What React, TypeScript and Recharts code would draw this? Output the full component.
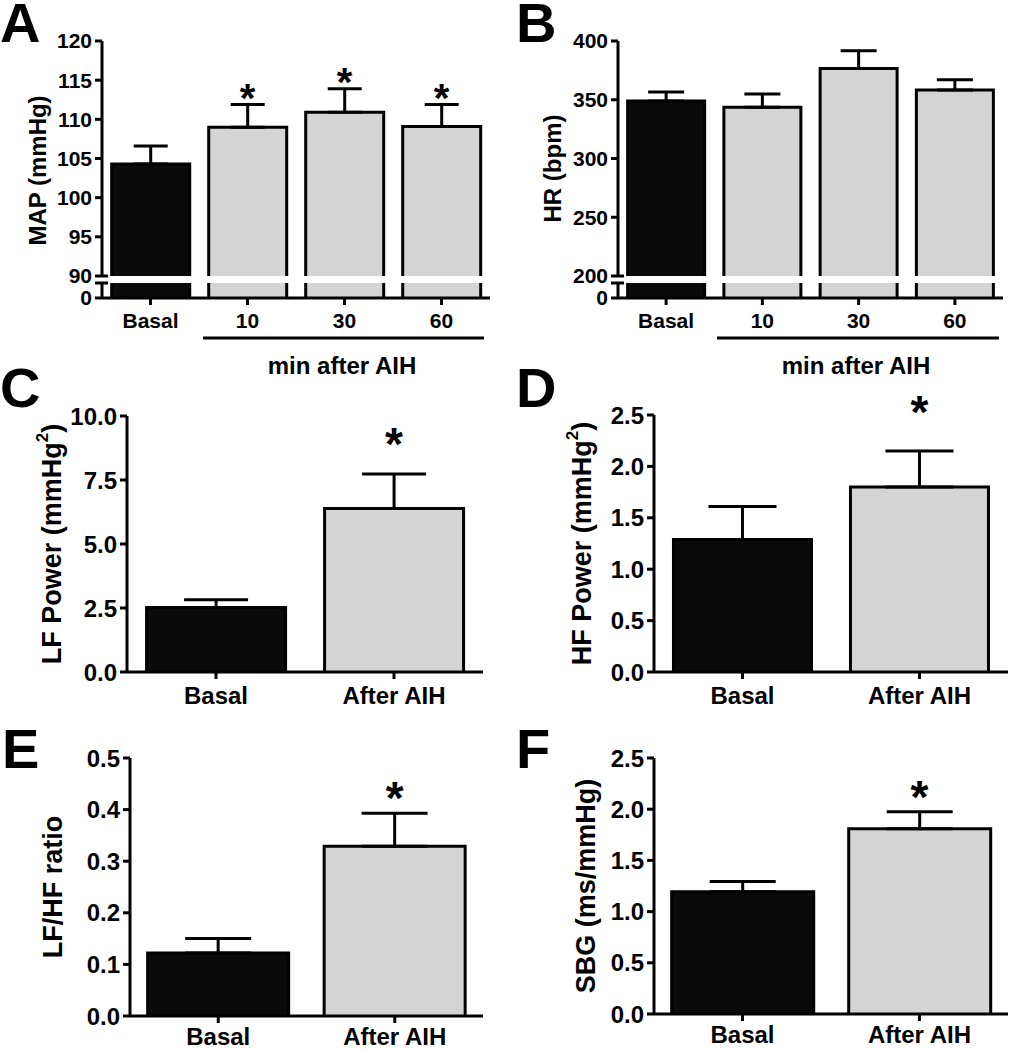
import React from 'react';
import { ComposedChart, Bar, XAxis, YAxis, ErrorBar, Line } from 'recharts';

const FONT = '"Liberation Sans", Arial, Helvetica, sans-serif';
const BLACK = '#0a0a0a';
const GRAY = '#d4d4d4';

// A / B: time course after AIH
const timeCats = ['Basal', '10', '30', '60'];
const mapMean = [104.3, 109.0, 110.9, 109.1];
const mapSem = [2.3, 2.9, 3.0, 2.8];
const mapSig = [false, true, true, true];
const mapTicks = [90, 95, 100, 105, 110, 115, 120];

const hrMean = [349, 343.6, 376.5, 358.3];
const hrSem = [7.6, 11.4, 15.2, 8.7];
const hrSig = [false, false, false, false];
const hrTicks = [200, 250, 300, 350, 400];

// C-F: basal vs after AIH
const groupCats = ['Basal', 'After AIH'];
const lfMean = [2.52, 6.39];
const lfSem = [0.3, 1.34];
const lfSig = [false, true];
const lfTicks = [0, 2.5, 5, 7.5, 10];

const hfMean = [1.29, 1.8];
const hfSem = [0.32, 0.35];
const hfSig = [false, true];
const hfTicks = [0, 0.5, 1, 1.5, 2, 2.5];

const ratioMean = [0.122, 0.329];
const ratioSem = [0.028, 0.064];
const ratioSig = [false, true];
const ratioTicks = [0, 0.1, 0.2, 0.3, 0.4, 0.5];

const sbgMean = [1.195, 1.809];
const sbgSem = [0.1, 0.166];
const sbgSig = [false, true];
const sbgTicks = [0, 0.5, 1, 1.5, 2, 2.5];

const buildRows = (cats: string[], mean: number[], sem: number[], sig: boolean[]) =>
  cats.map((cat, i) => ({
    cat,
    mean: mean[i],
    err: [0, sem[i]],
    star: sig[i] ? mean[i] + sem[i] : null,
  }));

const axisStyle = { stroke: '#000', strokeWidth: 3 };
const TICK_SIZE = 7;
const TICK_MARGIN = 3;

// bar outline without a bottom edge (so the axis break stays open)
const OpenBar = (p: any) => {
  const { x, y, width, height, index } = p;
  if (!height || height <= 0) return null;
  const fill = index === 0 ? BLACK : GRAY;
  return (
    <g>
      <rect x={x} y={y} width={width} height={height} fill={fill} />
      <path
        d={`M${x},${y + height}V${y}H${x + width}V${y + height}`}
        fill="none"
        stroke="#000"
        strokeWidth={3}
      />
    </g>
  );
};

// y tick with optional break mark (short stub to the right of the axis)
const makeYTick = (fontSize: number, fmt?: (v: number) => string, breakAt?: number, hideAt?: number) => (p: any) => {
  const { x, y, payload } = p;
  const v = payload.value;
  const axisX = x + TICK_SIZE + TICK_MARGIN;
  return (
    <g>
      {v === breakAt && <line x1={axisX} x2={axisX + 6} y1={y} y2={y} stroke="#000" strokeWidth={3} />}
      {v !== hideAt && (
        <text x={x} y={y} dy="0.355em" textAnchor="end" fontSize={fontSize} fontWeight={700} fill="#000">
          {fmt ? fmt(v) : String(v)}
        </text>
      )}
    </g>
  );
};

const makeTitle = (content: React.ReactNode, dx: number, dy: number, size: number) => (props: any) => {
  const vb = props.viewBox;
  const cx = vb.x + vb.width + dx;
  const cy = vb.y + vb.height / 2 + dy;
  return (
    <text
      x={cx}
      y={cy}
      transform={`rotate(-90 ${cx} ${cy})`}
      textAnchor="middle"
      dominantBaseline="central"
      fontSize={size}
      fontWeight={700}
      fill="#000"
    >
      {content}
    </text>
  );
};

const makeStar = (offset: number, size: number) => (props: any) => {
  const { x, y, value } = props;
  if (value == null || y == null) return null;
  return (
    <text x={x} y={y - offset + size * 0.58} textAnchor="middle" fontSize={size} fontWeight={700} fill="#000">
      *
    </text>
  );
};

interface PanelProps {
  left: number;
  top: number;
  width: number;
  height: number;
  margin: { top: number; right: number; bottom: number; left: number };
  rows: any[];
  domain: [number, number];
  ticks: number[];
  fmt?: (v: number) => string;
  fontSize: number;
  showX: boolean;
  xHeight?: number;
  xMargin?: number;
  title?: any;
  capWidth?: number;
  star?: any;
  gap: string;
  errors?: boolean;
  breakAt?: number;
  hideAt?: number;
}

const Panel: React.FC<PanelProps> = ({
  left, top, width, height, margin, rows, domain, ticks, fmt, fontSize,
  showX, xHeight = 36, xMargin = 8, title, capWidth = 17, star, gap, errors = true,
  breakAt, hideAt,
}) => (
  <div style={{ position: 'absolute', left, top }}>
    <ComposedChart width={width} height={height} data={rows} margin={margin} barCategoryGap={gap}>
      <XAxis
        dataKey="cat"
        hide={!showX}
        height={xHeight}
        interval={0}
        tickSize={7}
        tickMargin={xMargin}
        axisLine={axisStyle}
        tickLine={axisStyle}
        tick={{ fill: '#000', fontSize, fontWeight: 700 }}
      />
      <YAxis
        type="number"
        domain={domain}
        ticks={ticks}
        interval={0}
        allowDataOverflow
        width={60}
        tickSize={TICK_SIZE}
        tickMargin={TICK_MARGIN}
        axisLine={axisStyle}
        tickLine={axisStyle}
        tick={makeYTick(fontSize, fmt, breakAt, hideAt)}
        label={title}
      />
      <Bar dataKey="mean" shape={OpenBar} isAnimationActive={false}>
        {errors && (
          <ErrorBar dataKey="err" direction="y" width={capWidth} stroke="#000" strokeWidth={3} isAnimationActive={false} />
        )}
      </Bar>
      {star && (
        <Line
          dataKey="star"
          stroke="none"
          dot={false}
          activeDot={false}
          legendType="none"
          isAnimationActive={false}
          label={star}
        />
      )}
    </ComposedChart>
  </div>
);

const f1 = (v: number) => v.toFixed(1);

const mapRows = buildRows(timeCats, mapMean, mapSem, mapSig);
const hrRows = buildRows(timeCats, hrMean, hrSem, hrSig);
const lfRows = buildRows(groupCats, lfMean, lfSem, lfSig);
const hfRows = buildRows(groupCats, hfMean, hfSem, hfSig);
const ratioRows = buildRows(groupCats, ratioMean, ratioSem, ratioSig);
const sbgRows = buildRows(groupCats, sbgMean, sbgSem, sbgSig);

const powerTitle = (name: string) => (
  <>
    <tspan>{name} Power (mmHg</tspan>
    <tspan dy={-10} fontSize={17}>2</tspan>
    <tspan dy={10}>)</tspan>
  </>
);

const letterStyle = { fontSize: 56, fontWeight: 700, fill: '#000' } as const;

export default function App() {
  return (
    <div
      style={{
        position: 'absolute',
        left: 0,
        top: 0,
        width: 1009,
        height: 1050,
        background: '#fff',
        fontFamily: FONT,
        overflow: 'hidden',
      }}
    >
      {/* A: MAP, broken axis */}
      <Panel
        left={0} top={0} width={500} height={350}
        margin={{ top: 41, right: 10, bottom: 74, left: 42 }}
        rows={mapRows} domain={[90, 120]} ticks={mapTicks} fontSize={21}
        showX={false} gap="10%" capWidth={17} breakAt={90}
        title={makeTitle('MAP (mmHg)', -65, 12, 24)}
        star={makeStar(16, 40)}
      />
      <Panel
        left={0} top={0} width={500} height={350}
        margin={{ top: 283, right: 10, bottom: 12, left: 42 }}
        rows={mapRows} domain={[0, 90]} ticks={[0, 90]} fontSize={21}
        showX xHeight={40} gap="10%" errors={false} breakAt={90} hideAt={90}
      />
      {/* B: HR, broken axis */}
      <Panel
        left={500} top={0} width={509} height={350}
        margin={{ top: 41, right: 6, bottom: 74, left: 58 }}
        rows={hrRows} domain={[200, 400]} ticks={hrTicks} fontSize={21}
        showX={false} gap="10%" capWidth={18} breakAt={200}
        title={makeTitle('HR (bpm)', -66, 10, 24)}
      />
      <Panel
        left={500} top={0} width={509} height={350}
        margin={{ top: 283, right: 6, bottom: 12, left: 58 }}
        rows={hrRows} domain={[0, 200]} ticks={[0, 200]} fontSize={21}
        showX xHeight={40} gap="10%" errors={false} breakAt={200} hideAt={200}
      />
      {/* C: LF power */}
      <Panel
        left={0} top={340} width={500} height={370}
        margin={{ top: 76, right: 17, bottom: 2, left: 67 }}
        rows={lfRows} domain={[0, 10]} ticks={lfTicks} fmt={f1} fontSize={24}
        showX gap="11%" capWidth={32}
        title={makeTitle(powerTitle('LF'), -75, 0, 27)}
        star={makeStar(41, 46)}
      />
      {/* D: HF power */}
      <Panel
        left={500} top={340} width={509} height={370}
        margin={{ top: 75, right: 1, bottom: 2, left: 94 }}
        rows={hfRows} domain={[0, 2.5]} ticks={hfTicks} fmt={f1} fontSize={24}
        showX gap="11%" capWidth={34}
        title={makeTitle(powerTitle('HF'), -72, 0, 27)}
        star={makeStar(50, 46)}
      />
      {/* E: LF/HF */}
      <Panel
        left={0} top={700} width={500} height={350}
        margin={{ top: 58, right: 17, bottom: 0, left: 70 }}
        rows={ratioRows} domain={[0, 0.5]} ticks={ratioTicks} fmt={f1} fontSize={24}
        showX xHeight={34} xMargin={5} gap="10%" capWidth={33}
        title={makeTitle('LF/HF ratio', -77, 0, 27)}
        star={makeStar(26, 46)}
      />
      {/* F: SBG */}
      <Panel
        left={500} top={700} width={509} height={350}
        margin={{ top: 58, right: 1, bottom: 2, left: 94 }}
        rows={sbgRows} domain={[0, 2.5]} ticks={sbgTicks} fmt={f1} fontSize={24}
        showX xHeight={34} xMargin={5} gap="10%" capWidth={33}
        title={makeTitle('SBG (ms/mmHg)', -68, 0, 27)}
        star={makeStar(25, 46)}
      />

      <svg
        width={1009}
        height={1050}
        style={{ position: 'absolute', left: 0, top: 0, pointerEvents: 'none' }}
      >
        <text x={0} y={42} {...letterStyle}>A</text>
        <text x={516} y={42} {...letterStyle}>B</text>
        <text x={0} y={407} {...letterStyle}>C</text>
        <text x={516} y={407} {...letterStyle}>D</text>
        <text x={2} y={768} {...letterStyle}>E</text>
        <text x={516} y={768} {...letterStyle}>F</text>

        <line x1={203} y1={338} x2={484} y2={338} stroke="#000" strokeWidth={3} />
        <line x1={717} y1={338} x2={999} y2={338} stroke="#000" strokeWidth={3} />
        <text x={342} y={374} textAnchor="middle" fontSize={24} fontWeight={700} fill="#000">
          min after AIH
        </text>
        <text x={856} y={374} textAnchor="middle" fontSize={24} fontWeight={700} fill="#000">
          min after AIH
        </text>
      </svg>
    </div>
  );
}
